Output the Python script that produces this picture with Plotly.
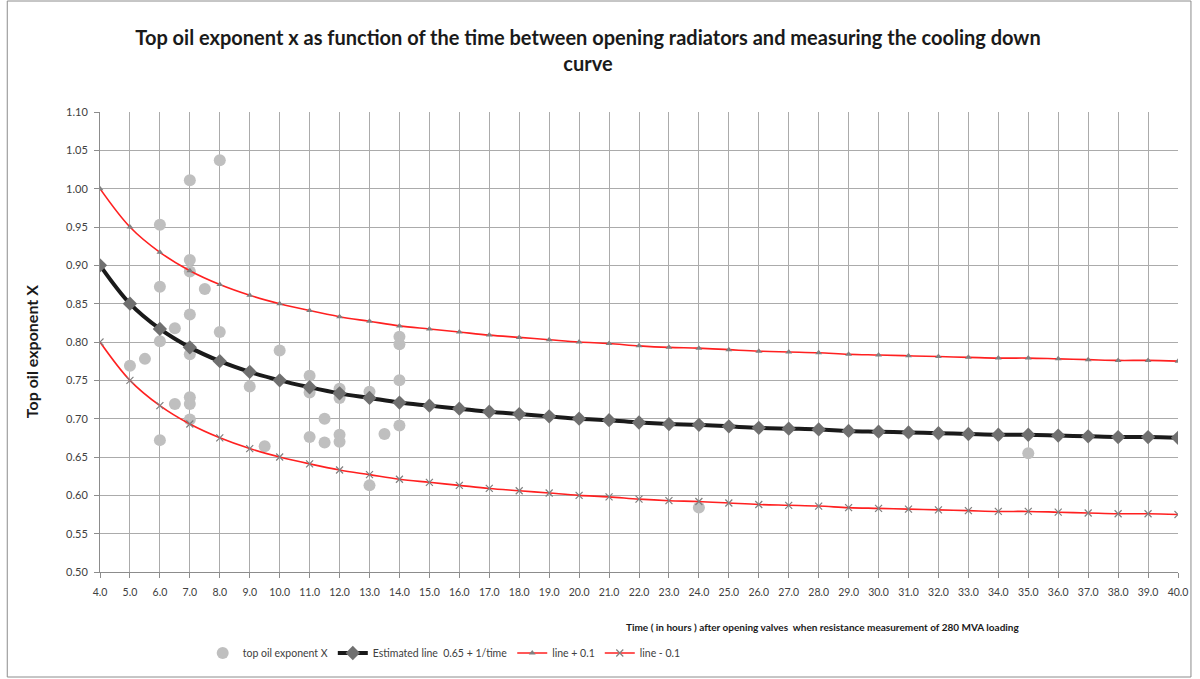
import plotly.graph_objects as go

# Measured points (time in hours, top oil exponent X)
meas_t = [5.0, 5.5, 6.0, 6.0, 6.0, 6.0, 6.5, 6.5, 7.0, 7.0, 7.0, 7.0, 7.0, 7.0, 7.0, 7.0,
          7.5, 8.0, 8.0, 9.0, 9.5, 10.0, 11.0, 11.0, 11.0, 11.5, 11.5, 12.0, 12.0, 12.0, 12.0,
          13.0, 13.0, 13.5, 14.0, 14.0, 14.0, 14.0, 24.0, 35.0]
meas_x = [0.769, 0.778, 0.953, 0.872, 0.801, 0.672, 0.818, 0.719, 1.011, 0.907, 0.892, 0.836,
          0.784, 0.728, 0.719, 0.699, 0.869, 1.037, 0.813, 0.742, 0.664, 0.789, 0.756, 0.734,
          0.676, 0.700, 0.669, 0.739, 0.727, 0.679, 0.670, 0.735, 0.613, 0.680, 0.807, 0.797,
          0.750, 0.691, 0.584, 0.655]

# Curve times
line_t = [4, 5, 6, 7, 8, 9, 10, 11, 12, 13, 14, 15, 16, 17, 18, 19, 20, 21, 22, 23, 24, 25,
          26, 27, 28, 29, 30, 31, 32, 33, 34, 35, 36, 37, 38, 39, 40]
est_line = [0.900, 0.850, 0.817, 0.793, 0.775, 0.761, 0.750, 0.741, 0.733, 0.727, 0.721, 0.717,
            0.713, 0.709, 0.706, 0.703, 0.700, 0.698, 0.695, 0.693, 0.692, 0.690, 0.688, 0.687,
            0.686, 0.684, 0.683, 0.682, 0.681, 0.680, 0.679, 0.679, 0.678, 0.677, 0.676, 0.676,
            0.675]
upper_line = [1.000, 0.950, 0.917, 0.893, 0.875, 0.861, 0.850, 0.841, 0.833, 0.827, 0.821, 0.817,
              0.813, 0.809, 0.806, 0.803, 0.800, 0.798, 0.795, 0.793, 0.792, 0.790, 0.788, 0.787,
              0.786, 0.784, 0.783, 0.782, 0.781, 0.780, 0.779, 0.779, 0.778, 0.777, 0.776, 0.776,
              0.775]
lower_line = [0.800, 0.750, 0.717, 0.693, 0.675, 0.661, 0.650, 0.641, 0.633, 0.627, 0.621, 0.617,
              0.613, 0.609, 0.606, 0.603, 0.600, 0.598, 0.595, 0.593, 0.592, 0.590, 0.588, 0.587,
              0.586, 0.584, 0.583, 0.582, 0.581, 0.580, 0.579, 0.579, 0.578, 0.577, 0.576, 0.576,
              0.575]

x_ticks = [4.0 + i for i in range(37)]
y_ticks = [0.50, 0.55, 0.60, 0.65, 0.70, 0.75, 0.80, 0.85, 0.90, 0.95, 1.00, 1.05, 1.10]

FONT = "Lato, 'Open Sans', Arial, sans-serif"

fig = go.Figure()
fig.add_trace(go.Scatter(
    x=meas_t, y=meas_x, mode="markers", name="top oil exponent X",
    marker=dict(symbol="circle", size=12, color="#BFBFBF")))
fig.add_trace(go.Scatter(
    x=line_t, y=est_line, mode="lines+markers", name="Estimated line  0.65 + 1/time",
    line=dict(color="#1a1a1a", width=4, shape="spline"),
    marker=dict(symbol="diamond", size=11, color="#707070")))
fig.add_trace(go.Scatter(
    x=line_t, y=upper_line, mode="lines+markers", name="line + 0.1",
    line=dict(color="#FF2020", width=1.6, shape="spline"),
    marker=dict(symbol="triangle-up", size=6, color="#808080")))
fig.add_trace(go.Scatter(
    x=line_t, y=lower_line, mode="lines+markers", name="line - 0.1",
    line=dict(color="#FF2020", width=1.6, shape="spline"),
    marker=dict(symbol="x-thin", size=7, color="#808080", line=dict(color="#808080", width=1.2))))

plot_left, plot_right, plot_top, plot_bottom = 100, 1181, 112, 572
pw = plot_right - plot_left
ph = plot_bottom - plot_top

def px(xp):
    return (xp - plot_left) / pw

def py(yp):
    return (plot_bottom - yp) / ph

fig.update_layout(
    width=1200, height=679,
    margin=dict(l=plot_left, r=1200 - plot_right, t=plot_top, b=679 - plot_bottom),
    paper_bgcolor="white", plot_bgcolor="white",
    font=dict(family=FONT, size=11, color="#404040"),
    title=dict(
        text="Top oil exponent x as function of the time between opening radiators and measuring the cooling down<br>curve",
        x=588 / 1200, xanchor="center", y=1 - 45 / 679, yanchor="top",
        font=dict(family=FONT, size=20, color="#1a1a1a", weight="bold")),
    showlegend=True,
    legend=dict(orientation="h", x=px(203), xanchor="left", y=py(653), yanchor="middle",
                font=dict(family=FONT, size=10.5, color="#404040"),
                bgcolor="rgba(0,0,0,0)", itemwidth=30, tracegroupgap=0),
    xaxis=dict(range=[4, 40], tickvals=x_ticks, tickformat=".1f",
               showgrid=True, gridcolor="#ABABAB", gridwidth=1,
               showline=True, linecolor="#8C8C8C", linewidth=1,
               ticks="outside", ticklen=5, tickcolor="#8C8C8C", ticklabelstandoff=5,
               tickfont=dict(family=FONT, size=10.5, color="#404040"), zeroline=False),
    yaxis=dict(range=[0.5, 1.1], tickvals=y_ticks, tickformat=".2f",
               showgrid=True, gridcolor="#ABABAB", gridwidth=1,
               showline=True, linecolor="#8C8C8C", linewidth=1,
               ticks="outside", ticklen=5, tickcolor="#8C8C8C", ticklabelstandoff=4,
               tickfont=dict(family=FONT, size=11, color="#404040"), zeroline=False),
    annotations=[
        dict(text="Time ( in hours ) after opening valves  when resistance measurement of 280 MVA loading",
             xref="paper", yref="paper", x=px(825), y=py(627), xanchor="center", yanchor="middle",
             showarrow=False, font=dict(family=FONT, size=10, color="#1a1a1a", weight="bold")),
        dict(text="Top oil exponent X", xref="paper", yref="paper", x=px(31), y=py(352),
             xanchor="center", yanchor="middle", textangle=-90, showarrow=False,
             font=dict(family=FONT, size=16, color="#1a1a1a", weight="bold")),
    ],
    shapes=[dict(type="rect", xref="paper", yref="paper",
                 x0=px(7), x1=px(1194), y0=py(677), y1=py(1),
                 line=dict(color="#8C8C8C", width=1), fillcolor="rgba(0,0,0,0)", layer="below")],
)

fig.write_html("out.html", config={"displayModeBar": False},
               post_script="document.body.style.margin='0';document.body.style.overflow='hidden';")
